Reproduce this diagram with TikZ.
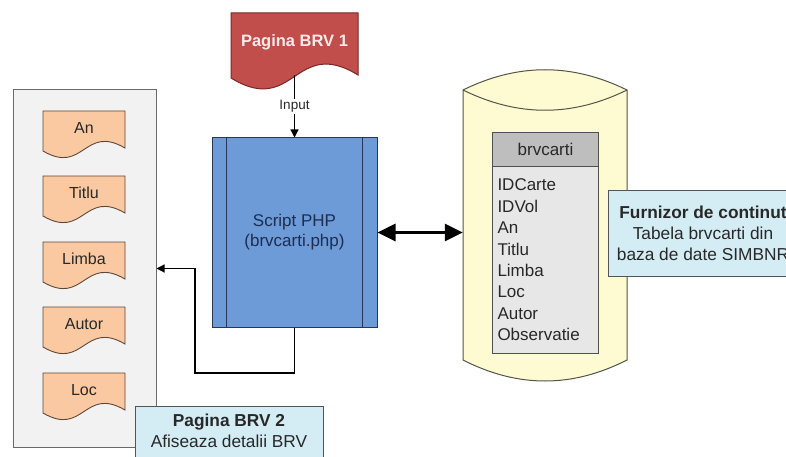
\documentclass[tikz,border=0pt]{standalone}
\usepackage{fontspec}
\setmainfont{Liberation Sans}
\usetikzlibrary{arrows.meta}
\definecolor{txt}{RGB}{40,40,40}
\definecolor{redfill}{RGB}{193,78,74}
\definecolor{redline}{RGB}{120,40,38}
\definecolor{bluefill}{RGB}{109,155,216}
\definecolor{blueline}{RGB}{40,55,85}
\definecolor{bluetext}{RGB}{30,45,80}
\definecolor{peach}{RGB}{250,201,161}
\definecolor{peachline}{RGB}{95,70,55}
\definecolor{panelfill}{RGB}{242,242,242}
\definecolor{panelline}{RGB}{105,105,105}
\definecolor{cylfill}{RGB}{254,251,211}
\definecolor{cylline}{RGB}{85,85,70}
\definecolor{tabhead}{RGB}{190,190,190}
\definecolor{tabbody}{RGB}{231,231,231}
\definecolor{tabline}{RGB}{80,80,80}
\definecolor{infofill}{RGB}{212,236,244}
\definecolor{infoline}{RGB}{80,85,90}
\newcommand\wavydoc[8]{%
  \path[#6] (#2,#3) -- ({#2+#4},#3) -- ({#2+#4},{#3+#5-3})
    .. controls ({#2+0.5*#4},{#3+#5-3-0.6*#5}) and ({#2+0.5*#4},{#3+#5+0.6*#5}) .. (#2,{#3+#5}) -- cycle;
  \node[minimum width=#4, minimum height=#5, inner sep=0, #7] (#1) at ({#2+0.5*#4},{#3+0.5*#5}) {#8};
}
\begin{document}
\begin{tikzpicture}[x=1pt,y=-1pt,
  every node/.style={font=\fontsize{17}{20}\selectfont, text=txt},
  docshape/.style={fill=peach, draw=peachline, line width=0.9pt},
  doctext/.style={font=\fontsize{16}{19}\selectfont, yshift=3pt},
  reddoc/.style={fill=redfill, draw=redline, line width=1pt},
  redtext/.style={font=\fontsize{16.5}{19}\selectfont\bfseries, text=white!92!red, yshift=3pt},
  panelbox/.style={fill=panelfill, draw=panelline, line width=1pt, inner sep=0},
  phpbox/.style={fill=bluefill, draw=blueline, line width=1pt, inner sep=0, align=center, text=bluetext},
  phpline/.style={draw=blueline, line width=1pt},
  cylshape/.style={fill=cylfill, draw=cylline, line width=1pt},
  cylcurve/.style={draw=cylline, line width=1pt},
  tabheadbox/.style={fill=tabhead, draw=tabline, line width=1pt, inner sep=0},
  tabbodybox/.style={fill=tabbody, draw=tabline, line width=1pt, inner xsep=5pt, inner ysep=0pt, align=left, font=\fontsize{17}{21.4}\selectfont},
  infobox/.style={fill=infofill, draw=infoline, line width=1pt, inner sep=0},
  infotext/.style={align=center, font=\fontsize{17.3}{21}\selectfont},
  thinarrow/.style={draw=black, line width=1.2pt, -{Triangle[length=8pt,width=8pt]}},
  dblarrow/.style={draw=black, line width=3pt, {Triangle[length=18pt,width=17pt]}-{Triangle[length=18pt,width=17pt]}},
  inputlbl/.style={font=\fontsize{13.5}{15}\selectfont, fill=white, inner sep=1.5pt}
]
\useasboundingbox (0,0) rectangle (786,457);
\clip (0,0) rectangle (786,457);
\fill[white] (0,0) rectangle (786,457);

% left panel with documents
\node[panelbox, minimum width=143, minimum height=357] (panel) at (84.5,268.5) {};
\wavydoc{an}{43}{111}{82}{40}{docshape}{doctext}{An}
\wavydoc{titlu}{43}{176}{82}{40}{docshape}{doctext}{Titlu}
\wavydoc{limba}{43}{242}{82}{40}{docshape}{doctext}{Limba}
\wavydoc{autor}{43}{307}{82}{40}{docshape}{doctext}{Autor}
\wavydoc{loc}{43}{373}{82}{40}{docshape}{doctext}{Loc}

% input page
\wavydoc{p1}{231}{13}{127}{65}{reddoc}{redtext}{Pagina BRV 1}

% php script
\node[phpbox, minimum width=165, minimum height=189] (php) at (294.5,232.5) {Script PHP\\(brvcarti.php)};
\draw[phpline] ([xshift=15pt]php.north west) -- ([xshift=15pt]php.south west);
\draw[phpline] ([xshift=-15pt]php.north east) -- ([xshift=-15pt]php.south east);

% database cylinder
\path[cylshape] (463,90) -- (463,360) .. controls (518,388) and (572,388) .. (627,360)
  -- (627,90) .. controls (572,63) and (518,63) .. (463,90) -- cycle;
\draw[cylcurve] (463,90) .. controls (518,117) and (572,117) .. (627,90);
\node[minimum width=164, minimum height=311, inner sep=0] (db) at (545,225.5) {};

% table
\node[tabheadbox, minimum width=106, minimum height=34, anchor=north west] (thead) at (492,132) {brvcarti};
\node[tabbodybox, text width=96, minimum height=187, anchor=north west] (tbody) at (492,166)
  {IDCarte\\IDVol\\An\\Titlu\\Limba\\Loc\\Autor\\Observatie};

% content provider
\node[infobox, infotext, minimum width=190, minimum height=86] (furn) at (703,233)
  {\textbf{Furnizor de continut}\\Tabela brvcarti din\\baza de date SIMBNR};

% output page
\node[infobox, minimum width=188, minimum height=64, anchor=north west] (brv2) at (135,406) {};
\node[infotext] (brv2t) at (229,431) {\textbf{Pagina BRV 2}\\Afiseaza detalii BRV};

% connectors
\draw[thinarrow] (p1.south) -- node[inputlbl] {Input} (php.north);
\draw[dblarrow] (php.east) -- (php.east -| db.west);
\coordinate (turn) at (195,373);
\draw[thinarrow] (php.south) |- (turn) |- (panel.east);
\end{tikzpicture}
\end{document}
